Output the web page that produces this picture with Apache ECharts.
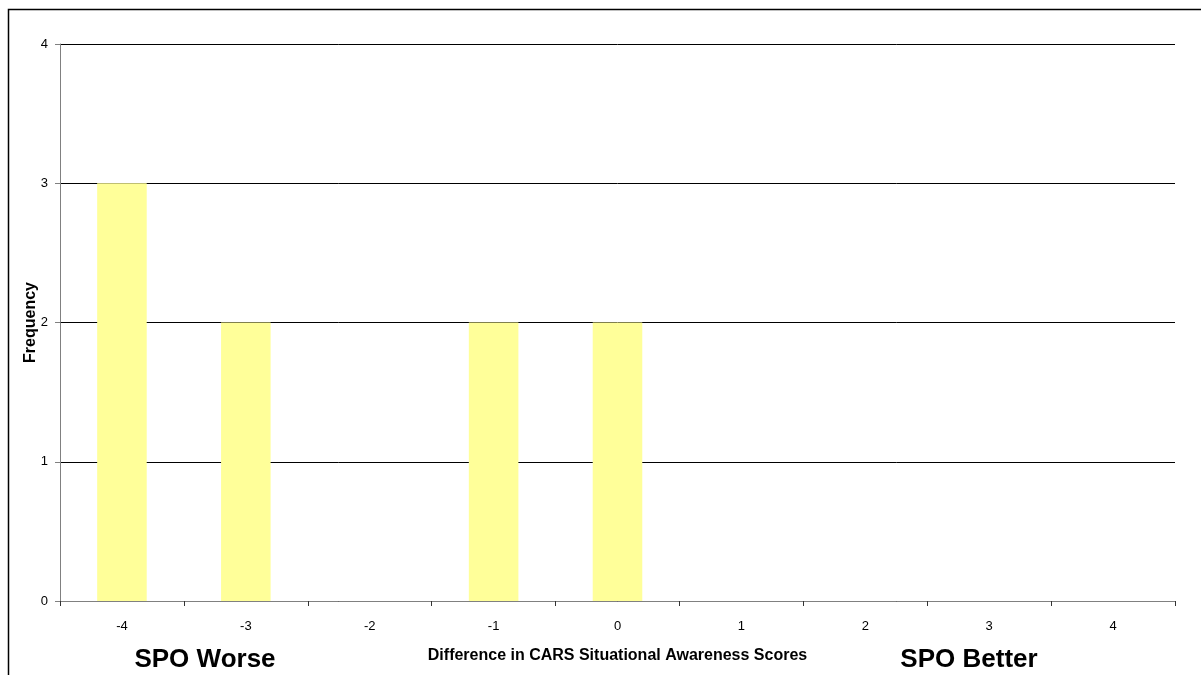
<!DOCTYPE html>
<html>
<head>
<meta charset="utf-8">
<script src="https://cdn.jsdelivr.net/npm/echarts@6/dist/echarts.min.js"></script>
<style>html,body{margin:0;padding:0;background:#fff}#c{width:1201px;height:675px}</style>
</head>
<body>
<div id="c"></div>
<script>
const categories = ['-4','-3','-2','-1','0','1','2','3','4'];
const frequency = [3, 2, 0, 2, 2, 0, 0, 0, 0];
const yTicks = [0, 1, 2, 3, 4];
const xTitle = 'Difference in CARS Situational Awareness Scores';
const yTitle = 'Frequency';
const leftNote = 'SPO Worse';
const rightNote = 'SPO Better';

const chart = echarts.init(document.getElementById('c'), null, {renderer: 'canvas'});
const font = '"Liberation Sans", Arial, sans-serif';
chart.setOption({
  animation: false,
  backgroundColor: '#fff',
  grid: {left: 60, top: 44, width: 1115, height: 557, containLabel: false},
  xAxis: {
    type: 'category',
    data: categories,
    boundaryGap: true,
    name: xTitle,
    nameLocation: 'middle',
    nameGap: 47,
    nameMoveOverlap: false,
    nameTextStyle: {fontFamily: font, fontSize: 16, fontWeight: 'bold', color: '#000'},
    axisLine: {show: true, lineStyle: {color: '#808080', width: 1}},
    axisTick: {show: true, alignWithLabel: false, length: 5, lineStyle: {color: '#333'}},
    axisLabel: {fontFamily: font, fontSize: 13, color: '#000', margin: 19},
    splitLine: {show: false}
  },
  yAxis: {
    type: 'value',
    min: yTicks[0],
    max: yTicks[yTicks.length - 1],
    interval: 1,
    name: yTitle,
    nameLocation: 'middle',
    nameGap: 21,
    nameMoveOverlap: false,
    nameRotate: 90,
    nameTextStyle: {fontFamily: font, fontSize: 16, fontWeight: 'bold', color: '#000'},
    axisLine: {show: true, lineStyle: {color: '#808080', width: 1}},
    axisTick: {show: true, length: 5, lineStyle: {color: '#808080'}},
    axisLabel: {fontFamily: font, fontSize: 13, color: '#000', margin: 12},
    splitLine: {show: true, lineStyle: {color: '#000', width: 1}}
  },
  series: [{
    type: 'bar',
    data: frequency,
    barWidth: '40%',
    itemStyle: {color: '#FFFF99'}
  }],
  graphic: [
    {type: 'rect', shape: {x: 8.5, y: 9.5, width: 1210, height: 700}, style: {fill: 'none', stroke: '#000', lineWidth: 1.5}, silent: true},
    {type: 'text', x: 205, y: 660, style: {text: leftNote, font: 'bold 26px "Liberation Sans", Arial, sans-serif', fill: '#000', align: 'center', verticalAlign: 'middle'}},
    {type: 'text', x: 969, y: 660, style: {text: rightNote, font: 'bold 26px "Liberation Sans", Arial, sans-serif', fill: '#000', align: 'center', verticalAlign: 'middle'}}
  ]
});
</script>
</body>
</html>
